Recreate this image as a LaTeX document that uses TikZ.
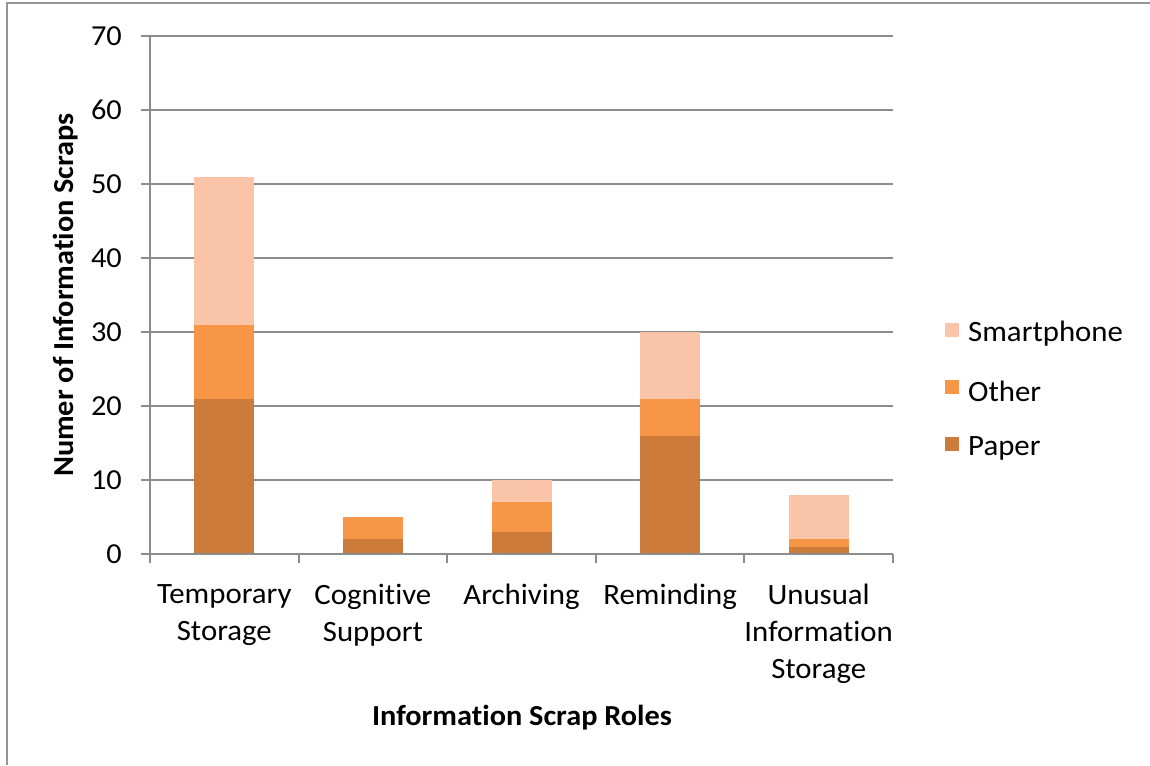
\documentclass[tikz,border=0pt]{standalone}
\usepackage{fontspec}
\setmainfont[Ligatures=NoCommon,FakeStretch=1.045]{Carlito}
\definecolor{paperc}{RGB}{204,123,58}
\definecolor{otherc}{RGB}{247,150,70}
\definecolor{smartc}{RGB}{250,196,168}
\definecolor{gridc}{RGB}{140,140,140}
\definecolor{framec}{RGB}{150,150,150}
\begin{document}
\begin{tikzpicture}[x=1pt,y=-1pt,
  gridline/.style={draw=gridc,line width=2pt},
  ticklab/.style={font=\fontsize{29}{35}\selectfont,inner sep=0pt},
  catlab/.style={font=\fontsize{29.5}{37}\selectfont,align=center,anchor=north,inner sep=0pt},
  axtitle/.style={font=\fontsize{29}{30}\selectfont\bfseries,inner sep=0pt},
  legtext/.style={font=\fontsize{29.5}{35}\selectfont,anchor=west,inner sep=0pt},
  legbox/.style={minimum size=14pt,inner sep=0pt}]
\useasboundingbox (0,0) rectangle (1150,765);
\fill[white] (0,0) rectangle (1150,765);
% outer frame (top and left edges visible)
\draw[framec,line width=2.5pt] (7,765) -- (7,3) -- (1150,3);
% gridlines and y ticks
\foreach \v in {0,10,...,70}{
  \draw[gridline] (141,{554-7.4*\v}) -- (893,{554-7.4*\v});
  \node[ticklab,anchor=east] (t\v) at (122,{554-7.4*\v}) {\v};
}
% y axis
\draw[gridline] (150,36) -- (150,563);
% x ticks
\foreach \i in {0,...,5}{
  \draw[gridline] ({150+148.6*\i},554) -- ({150+148.6*\i},563);
}
% bars
\foreach \i/\p/\o/\s in {0/21/10/20,1/2/3/0,2/3/4/3,3/16/5/9,4/1/1/6}{
  \pgfmathsetmacro\cx{224.3+148.6*\i}
  \fill[paperc] ({\cx-30},554) rectangle ({\cx+30},{554-7.4*\p});
  \fill[otherc] ({\cx-30},{554-7.4*\p}) rectangle ({\cx+30},{554-7.4*(\p+\o)});
  \fill[smartc] ({\cx-30},{554-7.4*(\p+\o)}) rectangle ({\cx+30},{554-7.4*(\p+\o+\s)});
}
% redraw baseline on top
\draw[gridline] (141,554) -- (893,554);
% category labels
\node[catlab] (c1) at (224.3,584) {Temporary\\Storage};
\node[catlab] (c2) at (372.9,584) {Cognitive\\Support};
\node[catlab] (c3) at (521.5,584) {Archiving};
\node[catlab] (c4) at (670.1,584) {Reminding};
\node[catlab] (c5) at (818.7,584) {Unusual\\Information\\Storage};
% axis titles
\node[axtitle] (xt) at (522,718) {Information Scrap Roles};
\node[axtitle,rotate=90] (yt) at (66,295) {Numer of Information Scraps};
% legend
\node[legbox,fill=smartc] (ls) at (952,330) {};
\node[legtext] (lst) at (968,334) {Smartphone};
\node[legbox,fill=otherc] (lo) at (952,387) {};
\node[legtext] (lot) at (968,391) {Other};
\node[legbox,fill=paperc] (lp) at (952,444) {};
\node[legtext] (lpt) at (968,448) {Paper};
\end{tikzpicture}
\end{document}
